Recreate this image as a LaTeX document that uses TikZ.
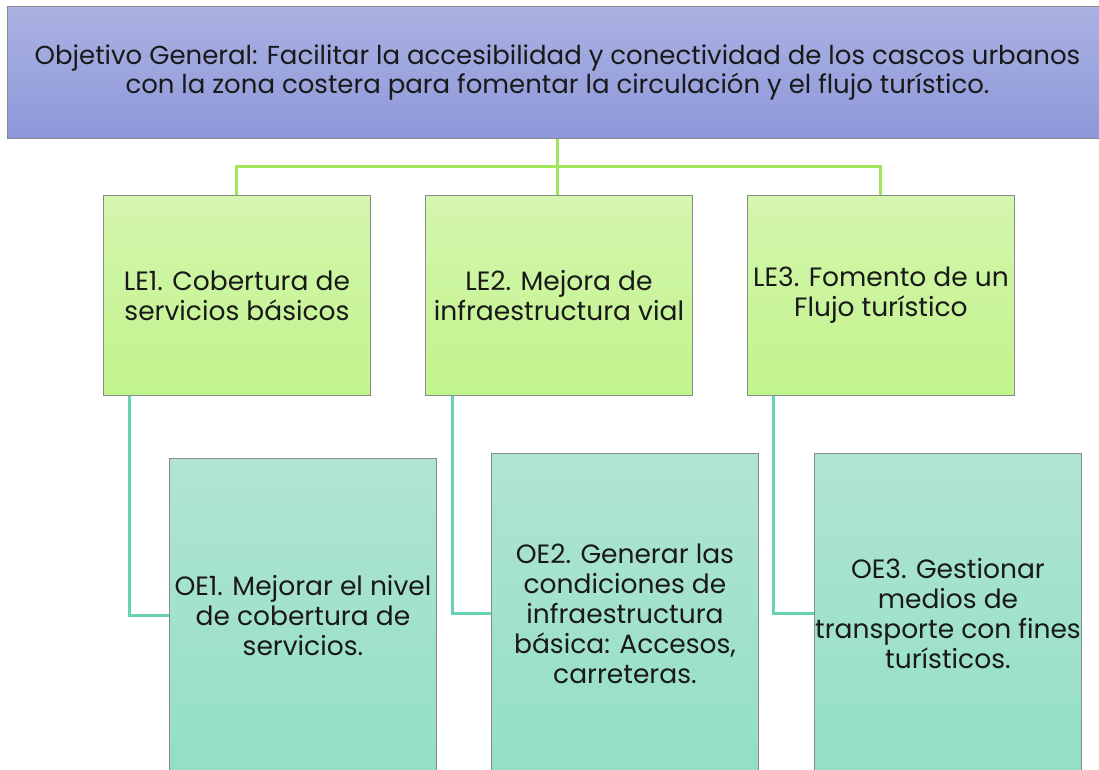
\documentclass[tikz,border=0pt]{standalone}
\usepackage{fontspec}
\setmainfont{Poppins}
\definecolor{gtop}{HTML}{AAB2E2}
\definecolor{gbot}{HTML}{8E98DA}
\definecolor{ltop}{HTML}{D4F5AE}
\definecolor{lbot}{HTML}{C2F48C}
\definecolor{otop}{HTML}{B0E4D5}
\definecolor{obot}{HTML}{93DFC6}
\definecolor{limeline}{HTML}{A2E65C}
\definecolor{tealline}{HTML}{66D3B5}
\definecolor{edgegray}{HTML}{8A8A8A}
\begin{document}
\begin{tikzpicture}[x=1pt,y=-1pt,
  boxbase/.style={rectangle, draw=edgegray, line width=0.9pt, anchor=north west,
    align=center, inner sep=0pt, text=black!90},
  goalbox/.style={boxbase, top color=gtop, bottom color=gbot,
    minimum width=1100pt, minimum height=132pt, font=\fontsize{26}{29.5}\selectfont},
  linebox/.style={boxbase, top color=ltop, bottom color=lbot,
    minimum width=267pt, minimum height=200pt, font=\fontsize{26.5}{30}\selectfont},
  objbox/.style={boxbase, top color=otop, bottom color=obot,
    minimum width=267pt, font=\fontsize{26.5}{30}\selectfont},
  limelink/.style={draw=limeline, line width=3pt},
  teallink/.style={draw=tealline, line width=3pt}]
\useasboundingbox (0,0) rectangle (1099,769);
\clip (0,0) rectangle (1099,769);
\fill[white] (0,0) rectangle (1099,769);

\node[goalbox] (g) at (7,6) {Objetivo General: Facilitar la accesibilidad y conectividad de los cascos urbanos\\con la zona costera para fomentar la circulación y el flujo turístico.};

\node[linebox] (le1) at (103,195) {LE1. Cobertura de\\servicios básicos};
\node[linebox] (le2) at (425,195) {LE2. Mejora de\\infraestructura vial};
\node[linebox] (le3) at (747,195) {LE3. Fomento de un\\Flujo turístico};

\node[objbox, minimum height=315pt] (oe1) at (169,458) {OE1. Mejorar el nivel\\de cobertura de\\servicios.};
\node[objbox, minimum height=320pt] (oe2) at (491,453) {OE2. Generar las\\condiciones de\\infraestructura\\básica: Accesos,\\carreteras.};
\node[objbox, minimum height=320pt] (oe3) at (814,453) {OE3. Gestionar\\medios de\\transporte con fines\\turísticos.};

\coordinate (hub) at (557,166);
\draw[limelink] (g.south -| hub) -- (hub);
\draw[limelink] (le1.north) |- (hub) -| (le3.north);
\draw[limelink] (hub) -- (hub |- le2.north);

\draw[teallink] ([xshift=26pt]le1.south west) |- (oe1.west);
\draw[teallink] ([xshift=27pt]le2.south west) |- (oe2.west);
\draw[teallink] ([xshift=26pt]le3.south west) |- (oe3.west);
\end{tikzpicture}
\end{document}
